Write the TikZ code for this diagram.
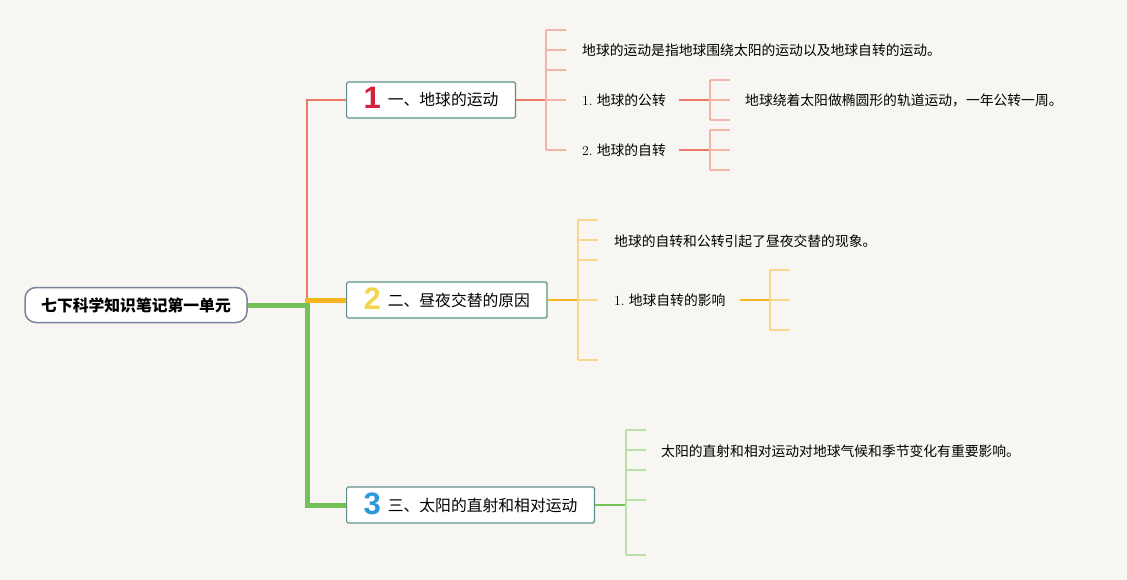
\documentclass[tikz,border=0pt]{standalone}
\usepackage{fontspec}
\newfontfamily\cjk{Noto Sans CJK SC}
\newfontfamily\numfont{Liberation Sans}
\definecolor{paper}{HTML}{F7F6F2}
\definecolor{boxedge}{HTML}{5E8F88}
\definecolor{rootedge}{HTML}{7B829E}
\definecolor{redline}{HTML}{EC7A68}
\definecolor{redsub}{HTML}{F3B3A6}
\definecolor{orangeline}{HTML}{F7B520}
\definecolor{orangesub}{HTML}{FAD68C}
\definecolor{greenline}{HTML}{74C157}
\definecolor{greensub}{HTML}{BBDFA8}
\definecolor{numred}{HTML}{D61F3B}
\definecolor{numyellow}{HTML}{F3D64E}
\definecolor{numblue}{HTML}{2A98DA}
\newcommand{\topicnum}[2]{\raisebox{-3pt}{\smash{\numfont\bfseries\fontsize{31}{31}\selectfont\color{#1}#2}}\hspace{7pt}}

\begin{document}
\begin{tikzpicture}[x=1pt,y=-1pt,
  topic/.style={draw=boxedge,fill=white,line width=1.2pt,rounded corners=1.5pt,anchor=west,
    minimum height=36pt,inner xsep=17pt,inner ysep=0pt,text height=12pt,text depth=0pt,
    font=\cjk\fontsize{15.8}{18}\selectfont},
  leaf/.style={anchor=west,inner sep=0pt,font=\cjk\fontsize{13.8}{16}\selectfont},
  thin/.style={line width=1.4pt},
  fat/.style={line width=5pt}]
\useasboundingbox [fill=paper] (0,0) rectangle (1127,580);
\node [draw=rootedge,fill=white,line width=1.5pt,rounded corners=11pt,minimum width=222pt,minimum height=35pt,
  font=\cjk\bfseries\fontsize{15.8}{18}\selectfont] (root) at (136,305) {七下科学知识笔记第一单元};
\node [topic] (b1) at (346,100) {\topicnum{numred}{1}一、地球的运动};
\node [topic] (b2) at (346,300) {\topicnum{numyellow}{2}二、昼夜交替的原因};
\node [topic] (b3) at (346,505) {\topicnum{numblue}{3}三、太阳的直射和相对运动};
\coordinate (fork) at (307,300);
\coordinate (gfork) at (307,305);
\draw [redline,line width=2pt] (fork) |- (b1.west);
\draw [greenline,fat] (root.east) -- (gfork) |- (b3.west);
\draw [orangeline,fat] ([xshift=-2pt]fork) -- (b2.west);
% first branch
\node [leaf] (t11) at (582,50) {地球的运动是指地球围绕太阳的运动以及地球自转的运动。};
\node [leaf] (t12) at (582,100) {{\rmfamily 1.} 地球的公转};
\node [leaf] (t13) at (582,150) {{\rmfamily 2.} 地球的自转};
\node [leaf] (t121) at (745,100) {地球绕着太阳做椭圆形的轨道运动，一年公转一周。};
\coordinate (k1) at (546,100);
\coordinate (k12) at (710,100);
\coordinate (k13) at (710,150);
\draw [redline,line width=2pt] (b1.east) -- (k1);
\draw [redsub,thin] (546,30) -- (546,150);
\foreach \y in {30,50,70,100,150} \draw [redsub,thin] (546,\y) -- (566,\y);
\draw [redline,line width=2pt] ([xshift=13pt]t12.east) -- (k12);
\draw [redline,line width=2pt] ([xshift=13pt]t13.east) -- (k13);
\draw [redsub,thin] (710,80) -- (710,120) (710,130) -- (710,170);
\foreach \y in {80,100,120,130,150,170} \draw [redsub,thin] (710,\y) -- (730,\y);
% second branch
\node [leaf] (t21) at (614,241) {地球的自转和公转引起了昼夜交替的现象。};
\node [leaf] (t22) at (614,300) {{\rmfamily 1.} 地球自转的影响};
\coordinate (k2) at (578,300);
\coordinate (k22) at (770,300);
\draw [orangeline,line width=2pt] (b2.east) -- (k2);
\draw [orangesub,thin] (578,220) -- (578,360);
\foreach \y in {220,240,260,300,360} \draw [orangesub,thin] (578,\y) -- (598,\y);
\draw [orangeline,line width=2pt] ([xshift=14pt]t22.east) -- (k22);
\draw [orangesub,thin] (770,270) -- (770,330);
\foreach \y in {270,300,330} \draw [orangesub,thin] (770,\y) -- (790,\y);
% third branch
\node [leaf] (t31) at (661,451) {太阳的直射和相对运动对地球气候和季节变化有重要影响。};
\coordinate (k3) at (626,505);
\draw [greenline,line width=2pt] (b3.east) -- (k3);
\draw [greensub,thin] (626,430) -- (626,555);
\foreach \y in {430,450,470,500,555} \draw [greensub,thin] (626,\y) -- (646,\y);
\end{tikzpicture}
\end{document}
